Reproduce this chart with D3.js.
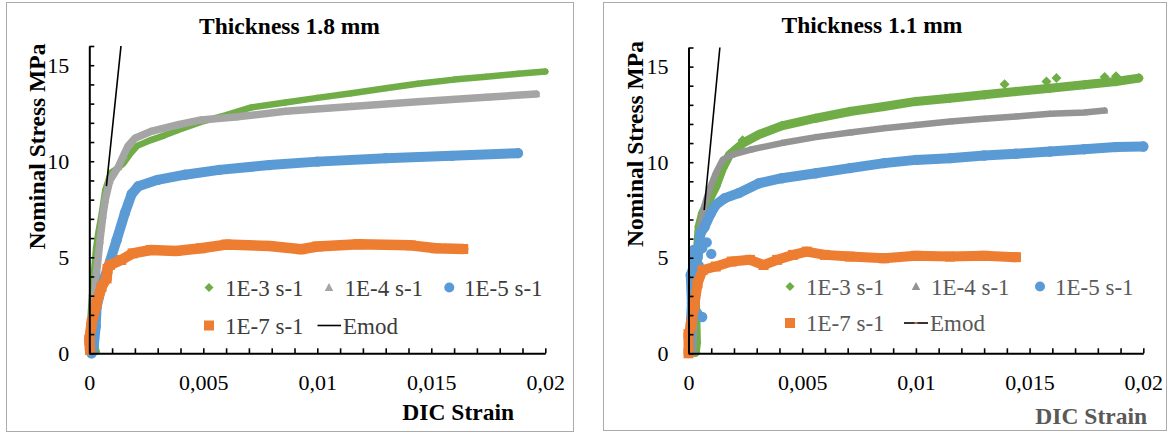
<!DOCTYPE html>
<html>
<head>
<meta charset="utf-8">
<script src="https://cdn.jsdelivr.net/npm/d3@7"></script>
<style>
  html, body { margin: 0; padding: 0; background: #fff; }
  svg { display: block; }
</style>
</head>
<body>
<svg id="chart" width="1171" height="434"></svg>
<script>
// ---------- shared axis data ----------
const xDomain = [0, 0.02];
const yDomain = [0, 16];
const xMinorTicks = d3.range(0, 21).map(i => i / 1000);
const yMinorTicks = d3.range(0, 17);
const xTickValues = [0, 0.005, 0.01, 0.015, 0.02];
const xTickLabels = ["0", "0,005", "0,01", "0,015", "0,02"];
const yTickValues = [0, 5, 10, 15];
const yTickLabels = ["0", "5", "10", "15"];

const seriesNames = ["1E-3 s-1", "1E-4 s-1", "1E-5 s-1", "1E-7 s-1", "Emod"];
const panelTitles = ["Thickness 1.8 mm", "Thickness 1.1 mm"];
const xAxisTitle = "DIC Strain";
const yAxisTitle = "Nominal Stress MPa";

// ---------- thickness 1.8 mm : [strain, stress MPa] ----------
const t18_rate1e3 = [
  [0.00032, 0.08], [0.00003, 1.5], [0.00012, 3.0], [0.0002, 4.2], [0.0003, 5.5],
  [0.0004, 6.3], [0.00055, 7.3], [0.0007, 8.5], [0.00095, 9.4], [0.0012, 9.6],
  [0.0015, 9.9], [0.0018, 10.4], [0.0021, 10.8], [0.0027, 11.1], [0.0033, 11.35],
  [0.0039, 11.63], [0.0049, 12.05], [0.006, 12.4], [0.0071, 12.8], [0.0086, 13.06],
  [0.01, 13.3], [0.0115, 13.54], [0.013, 13.8], [0.0144, 14.03], [0.016, 14.25],
  [0.0174, 14.4], [0.0188, 14.55], [0.02, 14.67]
];
const t18_rate1e4 = [
  [0.00003, 1.0], [0.00018, 2.4], [0.00032, 4.2], [0.00047, 5.9], [0.0006, 7.2],
  [0.0007, 8.0], [0.0009, 9.0], [0.00127, 9.7], [0.0015, 10.3], [0.0017, 10.8],
  [0.002, 11.2], [0.0027, 11.55], [0.0039, 11.9], [0.0049, 12.15], [0.0064, 12.3],
  [0.0086, 12.6], [0.0115, 12.85], [0.0144, 13.1], [0.0174, 13.33], [0.0196, 13.5]
];
const t18_rate1e5 = [
  [0.0001, 0.0], [0.0002, 0.4], [0.00028, 1.4], [0.00032, 2.4], [0.00054, 3.5],
  [0.00083, 4.5], [0.0012, 5.9], [0.00156, 7.3], [0.00186, 8.3], [0.00215, 8.7],
  [0.003, 9.03], [0.0042, 9.3], [0.0057, 9.55], [0.0079, 9.8], [0.01, 9.98],
  [0.013, 10.16], [0.0159, 10.28], [0.0188, 10.42]
];
const t18_rate1e7 = [
  [0.00003, 0.17], [0.0, 0.7], [0.0001, 1.56], [0.00032, 2.6], [0.00054, 3.47],
  [0.00076, 3.9], [0.0008, 4.4], [0.00091, 4.6], [0.0014, 4.86], [0.0019, 5.2],
  [0.0027, 5.38], [0.0038, 5.33], [0.0049, 5.47], [0.006, 5.66], [0.0079, 5.59],
  [0.0093, 5.42], [0.01, 5.56], [0.0118, 5.68], [0.0141, 5.62], [0.0152, 5.47],
  [0.0164, 5.43]
];
const t18_emod = [[0.00075, 8.7], [0.00139, 16]];

// ---------- thickness 1.1 mm : [strain, stress MPa] ----------
const t11_rate1e3 = [
  [0.0003, 0.05], [0.00035, 0.55], [0.0003, 3.0], [0.0004, 5.5], [0.00047, 6.63],
  [0.00062, 7.33], [0.00091, 8.03], [0.0012, 8.73], [0.0015, 9.69], [0.0018, 10.38],
  [0.0024, 11.0], [0.0031, 11.45], [0.0041, 11.9], [0.0056, 12.3], [0.0071, 12.65],
  [0.0086, 12.91], [0.01, 13.18], [0.0115, 13.35], [0.013, 13.53], [0.0144, 13.7],
  [0.0159, 13.87], [0.0174, 14.05], [0.0188, 14.22], [0.0198, 14.4]
];
// scattered readings lying off the main band
const t11_rate1e3_spread = [
  [0.00238, 11.15], [0.0139, 14.08], [0.01574, 14.22], [0.01618, 14.4],
  [0.0183, 14.45], [0.0188, 14.5]
];
const t11_rate1e4 = [
  [0.0002, 0.0], [0.0003, 3.0], [0.0005, 6.5], [0.00069, 7.68], [0.00091, 8.55],
  [0.0012, 9.42], [0.0015, 10.12], [0.0019, 10.38], [0.0027, 10.65], [0.0041, 11.0],
  [0.0056, 11.31], [0.0071, 11.55], [0.0086, 11.78], [0.01, 11.95], [0.0115, 12.13],
  [0.013, 12.27], [0.0144, 12.39], [0.0159, 12.53], [0.0174, 12.6], [0.0183, 12.7]
];
const t11_rate1e5 = [
  [0.00003, 0.15], [0.0001, 1.5], [0.00015, 2.6], [0.0001, 4.1], [0.0002, 4.4],
  [0.00022, 5.4], [0.0004, 5.0], [0.00053, 6.3], [0.0007, 6.6], [0.00097, 7.3],
  [0.0012, 7.77], [0.0016, 8.12], [0.0022, 8.38], [0.0031, 8.9], [0.0041, 9.16],
  [0.0056, 9.42], [0.0071, 9.69], [0.0086, 9.95], [0.01, 10.12], [0.0115, 10.21],
  [0.013, 10.35], [0.0144, 10.44], [0.0159, 10.56], [0.0174, 10.68], [0.0188, 10.79],
  [0.02, 10.82]
];
const t11_rate1e5_spread = [
  [0.00038, 2.1], [0.0006, 1.9], [0.0003, 3.2], [0.001, 5.2], [0.0008, 5.8],
  [0.00045, 4.6], [0.0006, 5.5]
];
const t11_rate1e7 = [
  [0.0, 0.0], [0.0, 1.0], [0.0001, 1.4], [0.00025, 2.44], [0.0004, 3.66],
  [0.00062, 4.36], [0.0012, 4.54], [0.0019, 4.8], [0.0027, 4.89], [0.0033, 4.62],
  [0.0039, 4.89], [0.0046, 5.15], [0.0052, 5.32], [0.006, 5.15], [0.0071, 5.06],
  [0.0086, 4.97], [0.01, 5.1], [0.0115, 5.06], [0.013, 5.1], [0.0144, 5.03]
];
const t11_emod = [[0.00069, 7.5], [0.00138, 16]];

// ---------- drawing ----------
const FONT = "'Liberation Serif', 'Times New Roman', Times, serif";
const svg = d3.select("#chart");

function symbolPath(kind, r) {
  switch (kind) {
    case "diamond": return `M0,${-r}L${r},0L0,${r}L${-r},0Z`;
    case "triangle": return `M0,${-r}L${r * 0.95},${r * 0.75}L${-r * 0.95},${r * 0.75}Z`;
    case "square": return `M${-r},${-r}h${2 * r}v${2 * r}h${-2 * r}Z`;
    default: return `M${r},0A${r},${r} 0 1 1 ${-r},0A${r},${r} 0 1 1 ${r},0Z`;
  }
}

const panels = [
  {
    frame: [6.5, 2.5, 567, 429],
    xRange: [89.3, 545.3], yRange: [353.3, 46],
    title: panelTitles[0], titleX: 289.5, titleY: 33.5,
    yTitleX: 45, yTitleY: 146.5,
    xTitleX: 514, xTitleY: 420, xTitleColor: "#000",
    legendColor: "#3c3c3c",
    series: [
      { data: t18_rate1e3, spread: [], color: "#70AD47", symbol: "diamond", band: 6.5, r: 3.5 },
      { data: t18_rate1e4, spread: [], color: "#A5A5A5", symbol: "triangle", band: 7.5, r: 4.2 },
      { data: t18_rate1e5, spread: [], color: "#5B9BD5", symbol: "circle", band: 10, r: 5.2 },
      { data: t18_rate1e7, spread: [], color: "#ED7D31", symbol: "square", band: 10.5, r: 5 }
    ],
    emod: t18_emod, emodMid: null,
    legend: {
      row1: 287.5, row2: 325.5,
      sym: [209, 329, 449.3, 209], text: [225, 344.5, 464, 225],
      lineX: [317.5, 341], lineText: 343
    }
  },
  {
    frame: [603.5, 2.5, 563, 428],
    xRange: [688.5, 1143.3], yRange: [353.3, 47.5],
    title: panelTitles[1], titleX: 872, titleY: 33,
    yTitleX: 643, yTitleY: 144,
    xTitleX: 1147, xTitleY: 424, xTitleColor: "#595959",
    legendColor: "#595959",
    series: [
      { data: t11_rate1e3, spread: t11_rate1e3_spread, color: "#70AD47", symbol: "diamond", band: 9, r: 5 },
      { data: t11_rate1e4, spread: [], color: "#949494", symbol: "triangle", band: 6.5, r: 3.8 },
      { data: t11_rate1e5, spread: t11_rate1e5_spread, color: "#5B9BD5", symbol: "circle", band: 10, r: 5.2 },
      { data: t11_rate1e7, spread: [], color: "#ED7D31", symbol: "square", band: 10, r: 5 }
    ],
    emod: t11_emod, emodMid: "#ED7D31",
    legend: {
      row1: 286.5, row2: 323,
      sym: [790, 916, 1040, 790], text: [806, 931, 1055, 806],
      lineX: [904, 928], lineText: 930
    }
  }
];

panels.forEach(p => {
  const g = svg.append("g");

  // chart frame
  g.append("rect")
    .attr("x", p.frame[0]).attr("y", p.frame[1])
    .attr("width", p.frame[2]).attr("height", p.frame[3])
    .attr("fill", "#fff").attr("stroke", "#ababab").attr("stroke-width", 1);

  const x = d3.scaleLinear().domain(xDomain).range(p.xRange);
  const y = d3.scaleLinear().domain(yDomain).range(p.yRange);

  // series bands + markers
  const line = d3.line().x(d => x(d[0])).y(d => y(d[1]));
  p.series.forEach(s => {
    g.append("path")
      .attr("d", line(s.data))
      .attr("fill", "none")
      .attr("stroke", s.color)
      .attr("stroke-width", s.band)
      .attr("stroke-linejoin", "round")
      .attr("stroke-linecap", "round");
    g.append("g").selectAll("path")
      .data(s.data.concat(s.spread))
      .join("path")
      .attr("transform", d => `translate(${x(d[0])},${y(d[1])})`)
      .attr("d", symbolPath(s.symbol, s.r))
      .attr("fill", s.color);
  });

  // Emod line
  g.append("path")
    .attr("d", line(p.emod))
    .attr("fill", "none")
    .attr("stroke", "#000")
    .attr("stroke-width", 1.6);

  // axes: minor ticks pointing inward
  const yAxisMinor = d3.axisLeft(y).tickValues(yMinorTicks).tickFormat("")
    .tickSizeInner(-5).tickSizeOuter(0);
  const xAxisMinor = d3.axisBottom(x).tickValues(xMinorTicks).tickFormat("")
    .tickSizeInner(-5).tickSizeOuter(0);

  const gy = g.append("g").attr("transform", `translate(${p.xRange[0]},0)`).call(yAxisMinor);
  const gx = g.append("g").attr("transform", `translate(0,${p.yRange[0]})`).call(xAxisMinor);
  [gx, gy].forEach(a => {
    a.selectAll(".domain").attr("stroke", "#000").attr("stroke-width", 2);
    a.selectAll(".tick line").attr("stroke", "#000").attr("stroke-width", 1.6);
  });

  // tick labels
  const yAxisLab = d3.axisLeft(y).tickValues(yTickValues)
    .tickFormat((d, i) => yTickLabels[i]).tickSize(0).tickPadding(20);
  const xAxisLab = d3.axisBottom(x).tickValues(xTickValues)
    .tickFormat((d, i) => xTickLabels[i]).tickSize(0).tickPadding(21);
  const gyl = g.append("g").attr("transform", `translate(${p.xRange[0]},0)`).call(yAxisLab);
  const gxl = g.append("g").attr("transform", `translate(0,${p.yRange[0]})`).call(xAxisLab);
  [gxl, gyl].forEach(a => {
    a.select(".domain").remove();
    a.selectAll("text").attr("font-family", FONT).attr("font-size", 22).attr("fill", "#000");
  });

  // titles
  g.append("text")
    .attr("x", p.titleX).attr("y", p.titleY)
    .attr("text-anchor", "middle")
    .attr("font-family", FONT).attr("font-weight", "bold").attr("font-size", 23.5)
    .attr("fill", "#000")
    .text(p.title);

  g.append("text")
    .attr("transform", `translate(${p.yTitleX},${p.yTitleY}) rotate(-90)`)
    .attr("text-anchor", "middle")
    .attr("font-family", FONT).attr("font-weight", "bold").attr("font-size", 23.5)
    .attr("fill", "#000")
    .text(yAxisTitle);

  g.append("text")
    .attr("x", p.xTitleX).attr("y", p.xTitleY)
    .attr("text-anchor", "end")
    .attr("font-family", FONT).attr("font-weight", "bold").attr("font-size", 23.5)
    .attr("fill", p.xTitleColor)
    .text(xAxisTitle);

  // legend
  const L = p.legend;
  const lg = g.append("g");
  p.series.forEach((s, i) => {
    const ry = i < 3 ? L.row1 : L.row2;
    const legendR = { diamond: 4.5, triangle: 4.5, circle: 5, square: 5 }[s.symbol];
    lg.append("path")
      .attr("transform", `translate(${L.sym[i]},${ry})`)
      .attr("d", symbolPath(s.symbol, legendR))
      .attr("fill", s.color);
    lg.append("text")
      .attr("x", L.text[i]).attr("y", ry + 8)
      .attr("font-family", FONT).attr("font-size", 23)
      .attr("fill", p.legendColor)
      .text(seriesNames[i]);
  });
  lg.append("line")
    .attr("x1", L.lineX[0]).attr("x2", L.lineX[1])
    .attr("y1", L.row2).attr("y2", L.row2)
    .attr("stroke", "#000").attr("stroke-width", 1.6);
  if (p.emodMid) {
    const mid = (L.lineX[0] + L.lineX[1]) / 2;
    lg.append("line")
      .attr("x1", mid - 1.5).attr("x2", mid + 1.5)
      .attr("y1", L.row2).attr("y2", L.row2)
      .attr("stroke", p.emodMid).attr("stroke-width", 1.6);
  }
  lg.append("text")
    .attr("x", L.lineText).attr("y", L.row2 + 8)
    .attr("font-family", FONT).attr("font-size", 23)
    .attr("fill", p.legendColor)
    .text(seriesNames[4]);
});
</script>
</body>
</html>
